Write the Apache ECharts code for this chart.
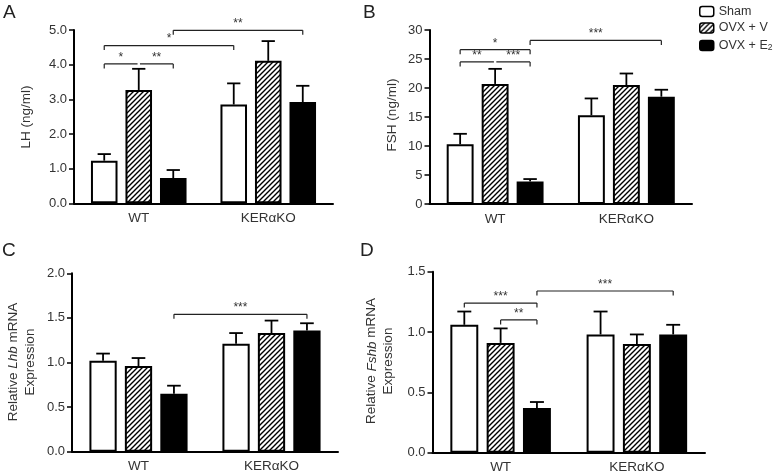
<!DOCTYPE html>
<html><head><meta charset="utf-8">
<script src="https://cdn.jsdelivr.net/npm/echarts@6/dist/echarts.min.js"></script>
<style>html,body{margin:0;padding:0;background:#fff}#c{width:777px;height:474px}</style>
</head><body><div id="c"></div>
<script>
const FONT = '"Liberation Sans", Arial, Helvetica, sans-serif';
const categories = ['WT', 'KERαKO'];
const groupNames = ['Sham', 'OVX + V', 'OVX + E2'];

// Panel A: LH (ng/ml)
const lhSham = [1.23, 2.85];
const lhShamSem = [0.19, 0.61];
const lhVeh = [3.27, 4.11];
const lhVehSem = [0.61, 0.57];
const lhE2 = [0.73, 2.92];
const lhE2Sem = [0.23, 0.47];
const lhTickLabels = ['0.0', '1.0', '2.0', '3.0', '4.0', '5.0'];
// [cat1, bar1, cat2, bar2, y, label, legLeft, legRight]
const lhBrackets = [
  [0, 0, 0, 1, 4.02, '*', 1, 0],
  [0, 1, 0, 2, 4.02, '**', 0, 1],
  [0, 0, 1, 0, 4.55, '*', 1, 1],
  [0, 2, 1, 2, 4.99, '**', 1, 1]
];

// Panel B: FSH (ng/ml)
const fshSham = [10.3, 15.3];
const fshShamSem = [1.8, 2.9];
const fshVeh = [20.7, 20.5];
const fshVehSem = [2.6, 2.0];
const fshE2 = [3.9, 18.5];
const fshE2Sem = [0.4, 1.2];
const fshTickLabels = ['0', '5', '10', '15', '20', '25', '30'];
const fshBrackets = [
  [0, 0, 0, 1, 24.5, '**', 1, 0],
  [0, 1, 0, 2, 24.5, '***', 0, 1],
  [0, 0, 0, 2, 26.6, '*', 1, 1],
  [0, 2, 1, 2, 28.2, '***', 1, 1]
];

// Panel C: Relative Lhb mRNA expression
const lhbSham = [1.02, 1.21];
const lhbShamSem = [0.08, 0.12];
const lhbVeh = [0.96, 1.33];
const lhbVehSem = [0.09, 0.14];
const lhbE2 = [0.65, 1.36];
const lhbE2Sem = [0.09, 0.08];
const lhbTickLabels = ['0.0', '0.5', '1.0', '1.5', '2.0'];
const lhbBrackets = [
  [0, 2, 1, 2, 1.54, '***', 1, 1]
];

// Panel D: Relative Fshb mRNA expression
const fshbSham = [1.06, 0.98];
const fshbShamSem = [0.11, 0.19];
const fshbVeh = [0.91, 0.90];
const fshbVehSem = [0.12, 0.08];
const fshbE2 = [0.37, 0.98];
const fshbE2Sem = [0.05, 0.08];
const fshbTickLabels = ['0.0', '0.5', '1.0', '1.5'];
const fshbBrackets = [
  [0, 0, 0, 2, 1.24, '***', 1, 1],
  [0, 1, 0, 2, 1.10, '**', 1, 1],
  [0, 2, 1, 2, 1.34, '***', 1, 1]
];

const panels = [
  { means: [lhSham, lhVeh, lhE2], sems: [lhShamSem, lhVehSem, lhE2Sem], ticks: lhTickLabels, max: 5, interval: 1, brackets: lhBrackets,
    grid: { left: 74, top: 30, width: 259, height: 173.3 } },
  { means: [fshSham, fshVeh, fshE2], sems: [fshShamSem, fshVehSem, fshE2Sem], ticks: fshTickLabels, max: 30, interval: 5, brackets: fshBrackets,
    grid: { left: 429.5, top: 30, width: 262.5, height: 174 } },
  { means: [lhbSham, lhbVeh, lhbE2], sems: [lhbShamSem, lhbVehSem, lhbE2Sem], ticks: lhbTickLabels, max: 2, interval: 0.5, brackets: lhbBrackets,
    grid: { left: 72, top: 273.3, width: 266, height: 178.4 } },
  { means: [fshbSham, fshbVeh, fshbE2], sems: [fshbShamSem, fshbVehSem, fshbE2Sem], ticks: fshbTickLabels, max: 1.5, interval: 0.5, brackets: fshbBrackets,
    grid: { left: 432.5, top: 271.7, width: 272.5, height: 181 } }
];

function hatch() {
  const s = 5;
  const c = document.createElement('canvas');
  c.width = s; c.height = s;
  const g = c.getContext('2d');
  g.fillStyle = '#fff'; g.fillRect(0, 0, s, s);
  g.strokeStyle = '#000'; g.lineWidth = 1.4;
  g.beginPath();
  g.moveTo(-1, s + 1); g.lineTo(s + 1, -1);
  g.moveTo(-2, 2); g.lineTo(2, -2);
  g.moveTo(s - 2, s + 2); g.lineTo(s + 2, s - 2);
  g.stroke();
  return c;
}
const hatchFill = { image: hatch(), repeat: 'repeat' };
const barStyles = [
  { color: '#ffffff', borderColor: '#000', borderWidth: 2 },
  { color: hatchFill, borderColor: '#000', borderWidth: 2 },
  { color: '#000000', borderColor: '#000', borderWidth: 2 }
];
const BAR_FRAC = 0.205, BAR_GAP = 0.30;

const grids = [], xAxes = [], yAxes = [], series = [];
panels.forEach((p, i) => {
  grids.push(Object.assign({ outerBoundsMode: 'none', containLabel: false }, p.grid));
  xAxes.push({
    type: 'category', gridIndex: i, data: categories,
    axisLine: { lineStyle: { color: '#000', width: 2 } },
    axisTick: { alignWithLabel: true, length: 5, lineStyle: { color: '#000', width: 1.5 } },
    axisLabel: { color: '#333', fontSize: 13.5, margin: 8, fontFamily: FONT }
  });
  yAxes.push({
    type: 'value', gridIndex: i, min: 0, max: p.max, interval: p.interval,
    splitLine: { show: false },
    axisLine: { show: true, lineStyle: { color: '#000', width: 2 } },
    axisTick: { show: true, length: 5, lineStyle: { color: '#000', width: 1.5 } },
    axisLabel: { color: '#333', fontSize: 13, margin: 7, fontFamily: FONT,
      formatter: (v, idx) => p.ticks[idx] }
  });
  for (let k = 0; k < 3; k++) {
    series.push({
      type: 'bar', name: groupNames[k], xAxisIndex: i, yAxisIndex: i,
      data: p.means[k], barWidth: (BAR_FRAC * 100) + '%', barGap: (BAR_GAP * 100) + '%',
      itemStyle: barStyles[k], silent: true, animation: false, z: 2
    });
  }
  const errData = [];
  for (let k = 0; k < 3; k++) {
    for (let c = 0; c < categories.length; c++) {
      errData.push([c, k, p.means[k][c], p.sems[k][c]]);
    }
  }
  series.push({
    type: 'custom', xAxisIndex: i, yAxisIndex: i, silent: true, animation: false, z: 3,
    encode: { x: 0, y: 2 }, data: errData,
    renderItem: (params, api) => {
      const c = api.value(0), k = api.value(1), m = api.value(2), s = api.value(3);
      const band = api.size([1, 0])[0];
      const bw = band * BAR_FRAC;
      const off = (k - 1) * bw * (1 + BAR_GAP);
      const p0 = api.coord([c, m]), p1 = api.coord([c, m + s]);
      const x = p0[0] + off, cw = bw * 0.5;
      const st = { stroke: '#000', lineWidth: 1.8 };
      return { type: 'group', children: [
        { type: 'line', shape: { x1: x, y1: p0[1], x2: x, y2: p1[1] }, style: st },
        { type: 'line', shape: { x1: x - cw / 2, y1: p1[1], x2: x + cw / 2, y2: p1[1] }, style: st }
      ] };
    }
  });
  const br = p.brackets;
  series.push({
    type: 'custom', xAxisIndex: i, yAxisIndex: i, silent: true, animation: false, z: 4,
    encode: { x: 0, y: 1 }, data: br.map(b => [b[0], b[4]]),
    renderItem: (params, api) => {
      const b = br[params.dataIndex];
      const band = api.size([1, 0])[0];
      const step = band * BAR_FRAC * (1 + BAR_GAP);
      const pl = api.coord([b[0], b[4]]), pr = api.coord([b[2], b[4]]);
      let xl = pl[0] + (b[1] - 1) * step, xr = pr[0] + (b[3] - 1) * step;
      const y = pl[1];
      if (!b[6]) xl += 1.2;
      if (!b[7]) xr -= 1.2;
      const st = { stroke: '#222', lineWidth: 1.2 };
      const ch = [{ type: 'line', shape: { x1: xl, y1: y, x2: xr, y2: y }, style: st }];
      if (b[6]) ch.push({ type: 'line', shape: { x1: xl, y1: y, x2: xl, y2: y + 4.5 }, style: st });
      if (b[7]) ch.push({ type: 'line', shape: { x1: xr, y1: y, x2: xr, y2: y + 4.5 }, style: st });
      ch.push({ type: 'text', style: { text: b[5], x: (xl + xr) / 2, y: y - 0.5, align: 'center', verticalAlign: 'bottom',
        fill: '#333', font: '12px ' + FONT } });
      return { type: 'group', children: ch };
    }
  });
});

const letterStyle = { fill: '#222', font: '19px ' + FONT };
const titleRich = {
  n: { fontSize: 13.5, fontFamily: FONT, color: '#333', lineHeight: 16.5 },
  i: { fontSize: 13.5, fontFamily: FONT, fontStyle: 'italic', color: '#333', lineHeight: 16.5 }
};
function yTitle(x, y, text) {
  return { type: 'text', x: x, y: y, rotation: Math.PI / 2, silent: true,
    style: { text: text, align: 'center', verticalAlign: 'middle', rich: titleRich, fill: '#333', font: '13.5px ' + FONT } };
}

const option = {
  backgroundColor: '#fff',
  animation: false,
  grid: grids, xAxis: xAxes, yAxis: yAxes, series: series,
  legend: {
    orient: 'vertical', left: 699, top: 5, itemWidth: 14, itemHeight: 10, itemGap: 3.5,
    data: groupNames, selectedMode: false, padding: 0,
    itemStyle: { borderWidth: 1.5, borderColor: '#000' },
    textStyle: { fontSize: 12.5, color: '#333', fontFamily: FONT, lineHeight: 13,
      rich: { sub: { fontSize: 8.5, fontFamily: FONT, color: '#333', verticalAlign: 'bottom', lineHeight: 13, padding: [5, 0, 0, 0] } } },
    formatter: n => n === 'OVX + E2' ? 'OVX + E{sub|2}' : n
  },
  graphic: [
    { type: 'text', left: 3, top: 3, style: Object.assign({ text: 'A' }, letterStyle) },
    { type: 'text', left: 363, top: 3, style: Object.assign({ text: 'B' }, letterStyle) },
    { type: 'text', left: 2, top: 241, style: Object.assign({ text: 'C' }, letterStyle) },
    { type: 'text', left: 360, top: 241, style: Object.assign({ text: 'D' }, letterStyle) },
    yTitle(26, 117, '{n|LH (ng/ml)}'),
    yTitle(392, 115, '{n|FSH (ng/ml)}'),
    yTitle(21.7, 362, '{n|Relative }{i|Lhb}{n| mRNA}\n{n|Expression}'),
    yTitle(380, 361, '{n|Relative }{i|Fshb}{n| mRNA}\n{n|Expression}')
  ]
};
const chart = echarts.init(document.getElementById('c'), null, { renderer: 'canvas' });
chart.setOption(option);
</script></body></html>
